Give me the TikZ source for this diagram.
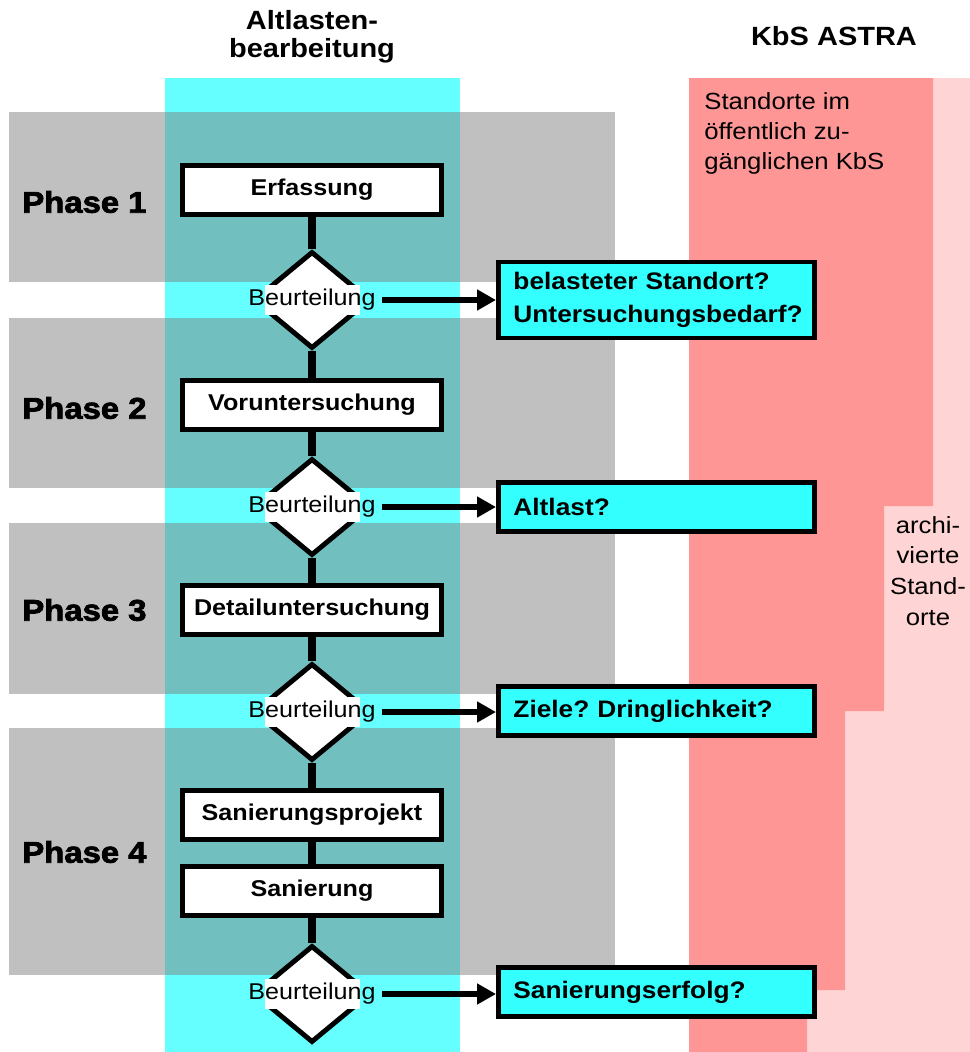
\documentclass[tikz,border=0pt]{standalone}
\usepackage{fontspec}
\setmainfont{Liberation Sans}[FakeStretch=1.1]
\newfontfamily\phasefont{Liberation Sans Bold}[FakeStretch=1.1, FakeBold=2.5]
\usetikzlibrary{shapes.geometric, arrows.meta}

\definecolor{colcyan}{RGB}{102,255,255}
\definecolor{boxcyan}{RGB}{51,255,255}
\definecolor{bandgray}{RGB}{192,192,192}
\definecolor{bandteal}{RGB}{114,191,191}
\definecolor{kbspink}{RGB}{255,150,150}
\definecolor{archpink}{RGB}{255,212,212}

\begin{document}
\begin{tikzpicture}[x=0.02cm, y=-0.02cm, font=\fontsize{13}{15}\selectfont]
    % Define styles
    \tikzset{
        stepbox/.style={rectangle, draw, line width=2.6pt, fill=white, minimum width=5.18cm, minimum height=0.98cm, font=\fontsize{13}{15}\selectfont\bfseries},
        check/.style={diamond, draw, line width=2.8pt, fill=white, minimum width=2.34cm, minimum height=1.94cm, inner sep=0pt},
        answer/.style={rectangle, draw, line width=2.8pt, fill=boxcyan, anchor=west, text width=5.72cm, inner xsep=0.3cm, minimum height=0.98cm, align=left, font=\fontsize{13.6}{19}\selectfont\bfseries},
        phase/.style={anchor=west, inner sep=0pt, font=\fontsize{17}{19}\phasefont},
        head/.style={align=center, font=\fontsize{15}{16}\selectfont\bfseries},
        link/.style={line width=4pt},
        arrow/.style={-{Triangle[length=0.38cm, width=0.4cm]}, line width=3.4pt},
    }
    \useasboundingbox (0,0) rectangle (970,1052);

    % KbS ASTRA columns
    \fill[archpink] (689,78) rectangle (970,1052);
    \fill[kbspink] (689,78) -| (933,506) -| (884,711) -| (845,990) -| (807,1052) -- (689,1052) -- cycle;

    % Phase bands and process column
    \foreach \ya/\yb in {112/282, 318/488, 523/694, 728/975}
        \fill[bandgray] (9,\ya) rectangle (615,\yb);
    \fill[colcyan] (165,78) rectangle (460,1052);
    \foreach \ya/\yb in {112/282, 318/488, 523/694, 728/975}
        \fill[bandteal] (165,\ya) rectangle (460,\yb);

    % Headings
    \node[head] (alt) at (312,37) {Altlasten-\\bearbeitung};
    \node[head] (kbs) at (834,36) {KbS ASTRA};
    \node[anchor=north west, inner sep=0pt, align=left, font=\fontsize{13.3}{17.2}\selectfont] (pub) at (704,92) {Standorte im\\öffentlich zu-\\gänglichen KbS};
    \node[anchor=north, inner sep=0pt, align=center, font=\fontsize{13.3}{17.4}\selectfont] (arch) at (928,516) {archi-\\vierte\\Stand-\\orte};

    \node[phase] (ph1) at (22,202) {Phase 1};
    \node[phase] (ph2) at (22,408) {Phase 2};
    \node[phase] (ph3) at (22,610) {Phase 3};
    \node[phase] (ph4) at (22,852) {Phase 4};

    % Process steps
    \node[stepbox] (erf) at (312,190) {Erfassung};
    \node[stepbox] (vor) at (312,405) {Voruntersuchung};
    \node[stepbox] (det) at (312,610) {Detailuntersuchung};
    \node[stepbox] (pro) at (312,815) {Sanierungsprojekt};
    \node[stepbox] (san) at (312,891) {Sanierung};

    \foreach \n/\y in {1/300, 2/507, 3/712, 4/994} {
        \node[check] (d\n) at (312,\y) {};
        \fill[colcyan] (244,\y-15) rectangle (380,\y+15);
        \fill[white] (265,\y-15) rectangle (360,\y+15);
        \node (b\n) at (312,\y) {Beurteilung};
    }

    \draw[link] (erf) -- (d1);
    \draw[link] (d1) -- (vor);
    \draw[link] (vor) -- (d2);
    \draw[link] (d2) -- (det);
    \draw[link] (det) -- (d3);
    \draw[link] (d3) -- (pro);
    \draw[link] (pro) -- (san);
    \draw[link] (san) -- (d4);

    % Questions
    \node[answer, minimum height=1.52cm] (a1) at (496,300) {belasteter Standort?\\Untersuchungsbedarf?};
    \node[answer] (a2) at (496,507) {Altlast?};
    \node[answer] (a3) at (496,711) {Ziele?\ Dringlichkeit?};
    \node[answer] (a4) at (496,992) {Sanierungserfolg?};

    \foreach \n in {1,...,4}
        \draw[arrow] (b\n.east) -- (b\n.east -| a\n.west);
\end{tikzpicture}
\end{document}
